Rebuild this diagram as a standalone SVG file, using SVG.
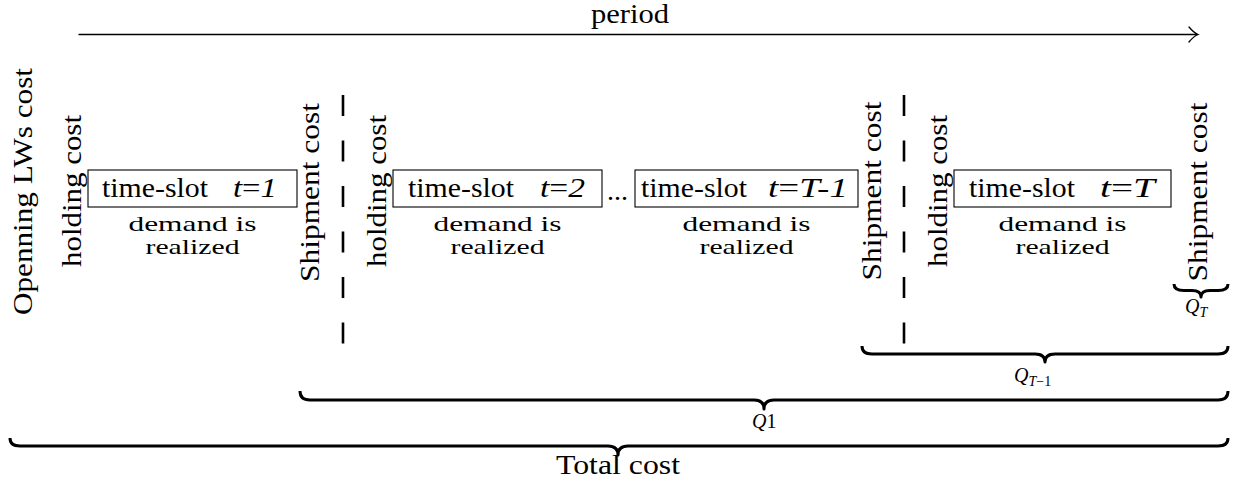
<svg xmlns="http://www.w3.org/2000/svg" width="1233" height="484" viewBox="0 0 1233 484" font-family="'Liberation Serif', serif">
<style>
text{font-family:"Liberation Serif","Times New Roman",serif;fill:#000;font-size:28px}
.v{text-anchor:middle}
.c{text-anchor:middle}
.d{text-anchor:middle;font-size:22px}
.it{font-style:italic}
.box{fill:none;stroke:#000;stroke-width:1.1}
.dash{stroke:#000;stroke-width:2.6;stroke-dasharray:21 24.5;fill:none}
.brace{fill:none;stroke:#000;stroke-width:3;stroke-linejoin:round}
.arr{fill:none;stroke:#000;stroke-width:1.3;stroke-linecap:round}
.q{font-size:20px}
.sub{font-size:14px}
</style>
<rect width="1233" height="484" fill="#fff"/>

<g id="period">
  <text class="c" x="630" y="23" textLength="78" lengthAdjust="spacingAndGlyphs">period</text>
</g>

<g id="connectors">
  <line class="arr" x1="79" y1="34.5" x2="1197" y2="34.5"/>
  <path class="arr" d="M1189,27 Q1194,33 1198,34.5 Q1194,36 1189,42"/>
  <line class="dash" x1="343" y1="95" x2="343" y2="345"/>
  <line class="dash" x1="904" y1="95" x2="904" y2="345"/>
</g>

<g id="opening">
  <text class="v" font-size="29" transform="translate(32,191.5) rotate(-90)" textLength="247" lengthAdjust="spacingAndGlyphs">Openning LWs cost</text>
</g>

<g id="holding1">
  <text class="v" transform="translate(81,191) rotate(-90)" textLength="152" lengthAdjust="spacingAndGlyphs">holding cost</text>
</g>
<g id="slot1">
  <rect class="box" x="88" y="170" width="209" height="37"/>
  <text x="102" y="197" textLength="106" lengthAdjust="spacingAndGlyphs">time-slot</text>
  <text x="233" y="197" textLength="44" lengthAdjust="spacingAndGlyphs"><tspan class="it">t</tspan>=<tspan class="it">1</tspan></text>
  <text class="d" x="192.5" y="230.5" textLength="128" lengthAdjust="spacingAndGlyphs">demand is</text>
  <text class="d" x="192.5" y="254" textLength="94" lengthAdjust="spacingAndGlyphs">realized</text>
</g>
<g id="shipment1">
  <text class="v" transform="translate(319,192.5) rotate(-90)" textLength="179" lengthAdjust="spacingAndGlyphs">Shipment cost</text>
</g>

<g id="holding2">
  <text class="v" transform="translate(386,191) rotate(-90)" textLength="152" lengthAdjust="spacingAndGlyphs">holding cost</text>
</g>
<g id="slot2">
  <rect class="box" x="393" y="170" width="209" height="37"/>
  <text x="408" y="197" textLength="106" lengthAdjust="spacingAndGlyphs">time-slot</text>
  <text x="540" y="197" textLength="45" lengthAdjust="spacingAndGlyphs"><tspan class="it">t</tspan>=<tspan class="it">2</tspan></text>
  <text class="d" x="497.5" y="230.5" textLength="128" lengthAdjust="spacingAndGlyphs">demand is</text>
  <text class="d" x="497.5" y="254" textLength="94" lengthAdjust="spacingAndGlyphs">realized</text>
</g>
<g id="dots">
  <text x="607" y="200" textLength="21" lengthAdjust="spacingAndGlyphs">...</text>
</g>
<g id="slot3">
  <rect class="box" x="635" y="170" width="223" height="37"/>
  <text x="641" y="197" textLength="106" lengthAdjust="spacingAndGlyphs">time-slot</text>
  <text x="768" y="197" textLength="80" lengthAdjust="spacingAndGlyphs"><tspan class="it">t</tspan>=<tspan class="it">T-1</tspan></text>
  <text class="d" x="746.5" y="230.5" textLength="128" lengthAdjust="spacingAndGlyphs">demand is</text>
  <text class="d" x="746.5" y="254" textLength="94" lengthAdjust="spacingAndGlyphs">realized</text>
</g>
<g id="shipment2">
  <text class="v" transform="translate(881,191) rotate(-90)" textLength="179" lengthAdjust="spacingAndGlyphs">Shipment cost</text>
</g>

<g id="holding3">
  <text class="v" transform="translate(947,191) rotate(-90)" textLength="152" lengthAdjust="spacingAndGlyphs">holding cost</text>
</g>
<g id="slot4">
  <rect class="box" x="954" y="170" width="217" height="37"/>
  <text x="969" y="197" textLength="106" lengthAdjust="spacingAndGlyphs">time-slot</text>
  <text x="1100" y="197" textLength="55" lengthAdjust="spacingAndGlyphs"><tspan class="it">t</tspan>=<tspan class="it">T</tspan></text>
  <text class="d" x="1062.5" y="230.5" textLength="128" lengthAdjust="spacingAndGlyphs">demand is</text>
  <text class="d" x="1062.5" y="254" textLength="94" lengthAdjust="spacingAndGlyphs">realized</text>
</g>
<g id="shipment3">
  <text class="v" transform="translate(1207,192) rotate(-90)" textLength="179" lengthAdjust="spacingAndGlyphs">Shipment cost</text>
</g>

<g id="braces">
  <path class="brace" stroke-width="2.4" d="M1174,284 Q1174,290.5 1184,290.5 L1192,290.5 Q1201,290.5 1201,297 Q1201,290.5 1210,290.5 L1218,290.5 Q1228,290.5 1228,284"/>
  <path class="brace" d="M862,346 Q862,354 872,354 L1035,354 Q1045,354 1045,362 Q1045,354 1055,354 L1218,354 Q1228,354 1228,346"/>
  <path class="brace" d="M300,391 Q300,400 310,400 L754,400 Q764,400 764,409 Q764,400 774,400 L1218,400 Q1228,400 1228,391"/>
  <path class="brace" d="M10,438 Q10,446 20,446 L608,446 Q618,446 618,455 Q618,446 628,446 L1218,446 Q1228,446 1228,438"/>
</g>

<g id="qT">
  <text class="q" x="1185" y="313"><tspan class="it">Q</tspan><tspan class="it sub" dy="4">T</tspan></text>
</g>
<g id="qT1">
  <text class="q" x="1014" y="382"><tspan class="it">Q</tspan><tspan class="sub" dy="4"><tspan class="it">T</tspan>−1</tspan></text>
</g>
<g id="q1">
  <text class="q" x="752" y="428"><tspan class="it">Q</tspan>1</text>
</g>
<g id="total">
  <text class="c" x="618" y="474" textLength="124" lengthAdjust="spacingAndGlyphs">Total cost</text>
</g>
</svg>
